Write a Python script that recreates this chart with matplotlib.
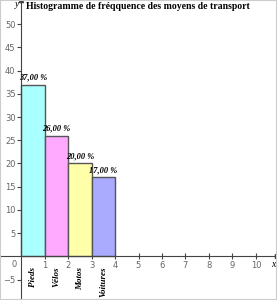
import matplotlib.pyplot as plt
import numpy as np

# données
categories = ['Pieds', 'Vélos', 'Motos', 'Voitures']
frequences = [37, 26, 20, 17]
couleurs = ['#aaffff', '#ffaaff', '#ffffaa', '#aaaaff']
xticks = [1, 2, 3, 4, 5, 6, 7, 8, 9, 10]
yticks = [-5, 5, 10, 15, 20, 25, 30, 35, 40, 45, 50]

fig = plt.figure(figsize=(2.77, 3.0), dpi=100)
ax = fig.add_axes([0, 0, 1, 1])
ax.set_xlim(-0.9, 10.9)
ax.set_ylim(-9.4, 55.2)

# barres
pos = np.arange(len(categories)) + 0.5
ax.bar(pos, frequences, width=1, color=couleurs, edgecolor='#555555', linewidth=1, zorder=2)

# étiquettes des pourcentages
for x, f in zip(pos, frequences):
    ax.text(x, f + 0.6, f'{f},00 %', ha='center', va='bottom', fontsize=6,
            family='Liberation Serif', style='italic', weight='bold', zorder=4)

# noms des catégories
for x, c in zip(pos, categories):
    ax.text(x, -2.2, c, ha='center', va='top', rotation=90, fontsize=6.5,
            family='Liberation Serif', style='italic', weight='bold')

# axes
for s in ['top', 'right']:
    ax.spines[s].set_visible(False)
ax.spines['left'].set_position(('data', 0))
ax.spines['bottom'].set_position(('data', 0))
ax.spines['left'].set_color('#444444')
ax.spines['bottom'].set_color('#444444')
ax.set_xticks(xticks)
ax.set_yticks(yticks)
ax.tick_params(axis='x', direction='inout', length=5, width=0.8, color='#444444',
               labelsize=6, labelcolor='#666666', pad=1)
ax.tick_params(axis='y', direction='out', length=3, width=0.8, color='#444444',
               labelsize=6, labelcolor='#666666', pad=1)
ax.plot(1, 0, '>', color='#444444', markersize=3, transform=ax.get_yaxis_transform(), clip_on=False)
ax.plot(0, 1, '^', color='#444444', markersize=3, transform=ax.get_xaxis_transform(), clip_on=False)
ax.text(-0.2, -0.8, '0', ha='right', va='top', fontsize=6, color='#666666')
ax.text(10.85, -0.8, 'x', ha='right', va='top', fontsize=7, family='Liberation Serif', style='italic')
ax.text(-0.1, 54.2, 'y', ha='right', va='center', fontsize=7, family='Liberation Serif', style='italic')

# titre
ax.text(0.2, 53.9, 'Histogramme de fréqquence des moyens de transport', ha='left', va='center',
        fontsize=7, family='Liberation Serif', weight='bold')

# cadre
fig.patches.append(plt.Rectangle((0, 0), 1, 1, transform=fig.transFigure, fill=False,
                                 edgecolor='#cccccc', linewidth=1.5))

fig.savefig('out.png', dpi=100)
